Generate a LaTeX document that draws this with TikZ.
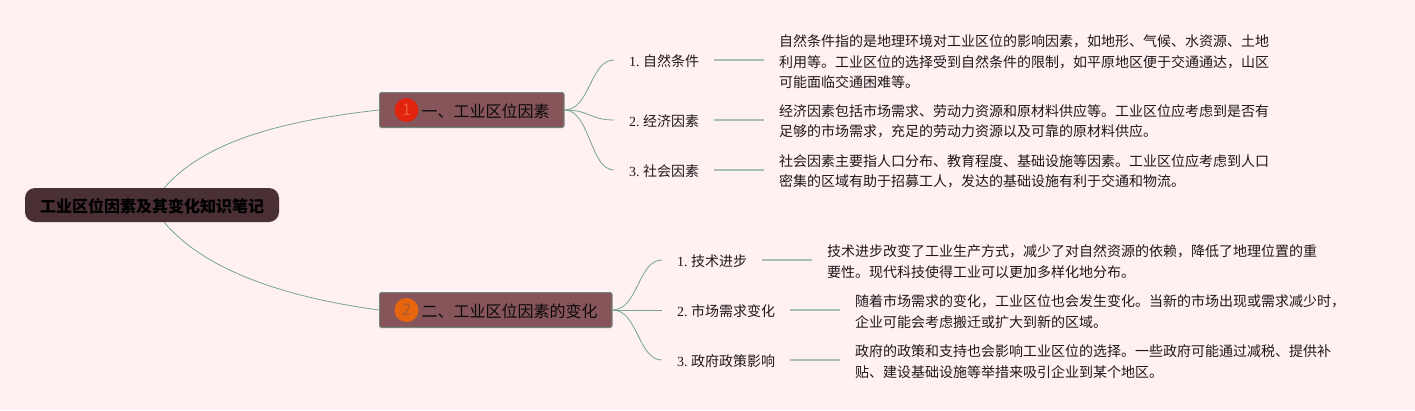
\documentclass[tikz,border=0pt]{standalone}
\usepackage{fontspec}
\setmainfont{Noto Sans CJK SC}
\newfontfamily\numfont{Liberation Serif}
\usetikzlibrary{backgrounds}
\definecolor{pagebg}{RGB}{255,240,241}
\definecolor{rootfill}{RGB}{74,48,53}
\definecolor{branchfill}{RGB}{133,85,90}
\definecolor{branchline}{RGB}{112,136,126}
\definecolor{curveline}{RGB}{118,165,146}
\definecolor{leafline}{RGB}{170,190,178}
\definecolor{textcol}{RGB}{30,24,26}
\definecolor{badgered}{RGB}{224,36,15}
\definecolor{badgeorange}{RGB}{232,101,15}
\definecolor{digitred}{RGB}{240,90,60}
\definecolor{digitorange}{RGB}{170,90,50}
\tikzset{
	root/.style={
		draw=none,
		fill=rootfill,
		rounded corners=10pt,
		minimum width=254pt,
		minimum height=34pt,
		inner sep=0pt,
		text=black,
		text height=15pt,
		text depth=1pt,
		font=\fontsize{16}{20}\selectfont\bfseries
	},
	branch/.style={
		draw=branchline,
		line width=1pt,
		fill=branchfill,
		rounded corners=1.5pt,
		anchor=west,
		minimum height=35pt,
		inner xsep=14.5pt,
		inner ysep=0pt,
		text=black!90!branchfill,
		text height=15pt,
		text depth=1pt,
		font=\fontsize{16}{20}\selectfont
	},
	badge/.style={
		circle,
		minimum width=24pt,
		inner sep=0pt,
		font=\fontsize{16}{18}\selectfont
	},
	leaf/.style={
		anchor=west,
		inner xsep=15pt,
		inner ysep=2pt,
		text=textcol,
		text height=13pt,
		text depth=0pt,
		font=\fontsize{14}{21}\selectfont\frenchspacing
	},
	detail/.style={
		anchor=west,
		align=left,
		inner xsep=15pt,
		inner ysep=0pt,
		text=textcol,
		font=\fontsize{14}{20.5}\selectfont
	},
	edge/.style={draw=curveline, line width=0.8pt},
	tie/.style={draw=leafline, line width=1.6pt}
}

\begin{document}
\begin{tikzpicture}[x=1pt,y=-1pt]
	\useasboundingbox (0,0) rectangle (1415,410);
	
	\node(root) at (152,205) [root] {工业区位因素及其变化知识笔记};
	
	\node(factor) at (379,110) [branch] {\hspace*{27.5pt}一、工业区位因素};
	\node(change) at (379,310) [branch] {\hspace*{27.5pt}二、工业区位因素的变化};
	
	\node(badge1) at (406.5,110) [badge,fill=badgered,text=digitred] {1};
	\node(badge2) at (406.5,310) [badge,fill=badgeorange,text=digitorange] {2};
	
	\node(nature) at (614,60) [leaf] {{\numfont 1. }自然条件};
	\node(economy) at (614,120) [leaf] {{\numfont 2. }经济因素};
	\node(society) at (614,170) [leaf] {{\numfont 3. }社会因素};
	
	\node(tech) at (662,260) [leaf] {{\numfont 1. }技术进步};
	\node(market) at (662,310) [leaf] {{\numfont 2. }市场需求变化};
	\node(policy) at (662,360) [leaf] {{\numfont 3. }政府政策影响};
	
	\node(nature_txt) at (764,62) [detail] {自然条件指的是地理环境对工业区位的影响因素，如地形、气候、水资源、土地\\利用等。工业区位的选择受到自然条件的限制，如平原地区便于交通通达，山区\\可能面临交通困难等。};
	\node(economy_txt) at (764,121.5) [detail] {经济因素包括市场需求、劳动力资源和原材料供应等。工业区位应考虑到是否有\\足够的市场需求，充足的劳动力资源以及可靠的原材料供应。};
	\node(society_txt) at (764,171.5) [detail] {社会因素主要指人口分布、教育程度、基础设施等因素。工业区位应考虑到人口\\密集的区域有助于招募工人，发达的基础设施有利于交通和物流。};
	\node(tech_txt) at (812,261.5) [detail] {技术进步改变了工业生产方式，减少了对自然资源的依赖，降低了地理位置的重\\要性。现代科技使得工业可以更加多样化地分布。};
	\node(market_txt) at (840,311.5) [detail] {随着市场需求的变化，工业区位也会发生变化。当新的市场出现或需求减少时，\\企业可能会考虑搬迁或扩大到新的区域。};
	\node(policy_txt) at (840,361.5) [detail] {政府的政策和支持也会影响工业区位的选择。一些政府可能通过减税、提供补\\贴、建设基础设施等举措来吸引企业到某个地区。};
	
	\begin{scope}[on background layer]
		\fill[pagebg] (0,0) rectangle (1415,410);
		
		\draw[edge] (root.center) .. controls (190,140) and (290,120) .. (factor.west);
		\draw[edge] (root.center) .. controls (190,270) and (290,298) .. (change.west);
		
		\draw[edge] (factor.east) .. controls (590,110) and (590,60) .. (nature.west);
		\draw[edge] (factor.east) .. controls (590,110) and (590,120) .. (economy.west);
		\draw[edge] (factor.east) .. controls (590,110) and (590,170) .. (society.west);
		
		\draw[edge] (change.east) .. controls (638,310) and (638,260) .. (tech.west);
		\draw[edge] (change.east) -- (market.west);
		\draw[edge] (change.east) .. controls (638,310) and (638,360) .. (policy.west);
	\end{scope}
	
	\draw[tie] (nature.east) -- (nature_txt.west |- nature.east);
	\draw[tie] (economy.east) -- (economy_txt.west |- economy.east);
	\draw[tie] (society.east) -- (society_txt.west |- society.east);
	\draw[tie] (tech.east) -- (tech_txt.west |- tech.east);
	\draw[tie] (market.east) -- (market_txt.west |- market.east);
	\draw[tie] (policy.east) -- (policy_txt.west |- policy.east);
	
\end{tikzpicture}
\end{document}
